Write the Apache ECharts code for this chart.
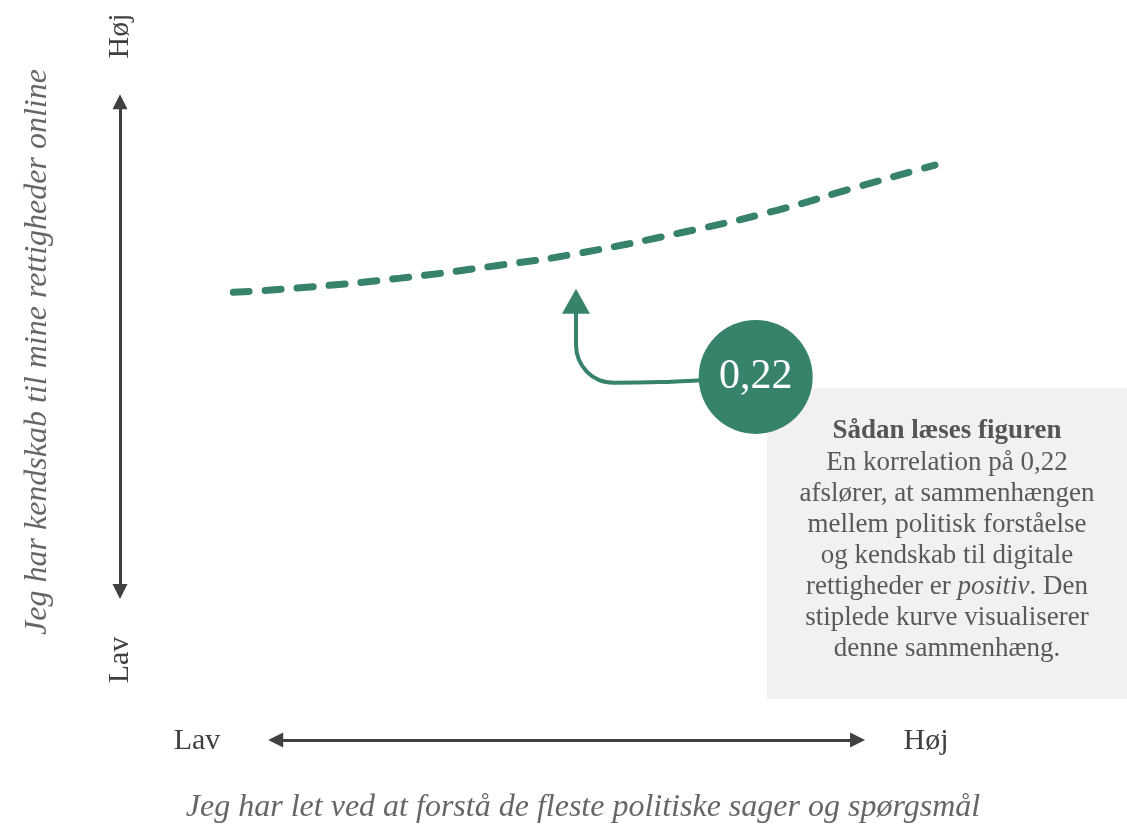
<!DOCTYPE html>
<html>
<head>
<meta charset="utf-8">
<script src="https://cdn.jsdelivr.net/npm/echarts@6/dist/echarts.min.js"></script>
<style>
  html, body { margin: 0; padding: 0; background: #fff; }
  #chart { width: 1127px; height: 829px; }
</style>
</head>
<body>
<div id="chart"></div>
<script>
// curve, in a 0..100 scale on both axes
var curveX = [13.9, 22.1, 34.4, 46.6, 55.2, 69.1, 80.6, 89.6, 100];
var curveY = [69.3, 70.0, 71.5, 73.5, 75.1, 78.6, 82.0, 85.3, 89.0];

// annotation: bent arrow from the bubble up to the curve
var pointerX = [71.2, 66.3, 60.6, 58.8, 57.3, 56.3, 55.95, 55.95];
var pointerY = [55.7, 55.4, 55.3, 55.7, 57.0, 58.9, 61.1, 66.3];
var pointerTip = [55.95, 67.9];

var bubble = [78.0, 56.2];
var bubbleLabel = '0,22';

// axis arrows
var vArrow = [[0, 23.0], [0, 98.8]];
var hArrow = [[19.1, 0], [90.5, 0]];

var green = '#37826b';
var dark = '#404040';
var serif = '"Liberation Serif", "DejaVu Serif", serif';

var chart = echarts.init(document.getElementById('chart'));

var option = {
  animation: false,
  grid: { left: 120, top: 94, width: 815, height: 646 },
  xAxis: { type: 'value', min: 0, max: 100, show: false },
  yAxis: { type: 'value', min: 0, max: 100, show: false },
  graphic: [
    { type: 'rect', z: -10, shape: { x: 767, y: 388, width: 360, height: 311 }, style: { fill: '#f1f1f1' } },
    {
      type: 'text', z: -5, x: 947, y: 416,
      style: {
        text: '{b|Sådan læses figuren}\nEn korrelation på 0,22\nafslører, at sammenhængen\nmellem politisk forståelse\nog kendskab til digitale\nrettigheder er {i|positiv}. Den\nstiplede kurve visualiserer\ndenne sammenhæng.',
        align: 'center', verticalAlign: 'top',
        font: '27px ' + serif, fill: '#595959', lineHeight: 31,
        rich: {
          b: { fontWeight: 'bold', fontSize: 27, fontFamily: serif, fill: '#555', lineHeight: 31 },
          i: { fontStyle: 'italic', fontSize: 27, fontFamily: serif, fill: '#595959', lineHeight: 31 }
        }
      }
    },
    { type: 'text', x: 120, y: 36, rotation: Math.PI / 2, style: { text: 'Høj', font: '30px ' + serif, fill: dark, align: 'center', verticalAlign: 'middle' } },
    { type: 'text', x: 120, y: 660, rotation: Math.PI / 2, style: { text: 'Lav', font: '30px ' + serif, fill: dark, align: 'center', verticalAlign: 'middle' } },
    { type: 'text', x: 197, y: 741, style: { text: 'Lav', font: '30px ' + serif, fill: dark, align: 'center', verticalAlign: 'middle' } },
    { type: 'text', x: 926, y: 741, style: { text: 'Høj', font: '30px ' + serif, fill: dark, align: 'center', verticalAlign: 'middle' } },
    { type: 'text', x: 38, y: 352, rotation: Math.PI / 2, style: { text: 'Jeg har kendskab til mine rettigheder online', font: 'italic 32px ' + serif, fill: '#666', align: 'center', verticalAlign: 'middle' } },
    { type: 'text', x: 583, y: 808, style: { text: 'Jeg har let ved at forstå de fleste politiske sager og spørgsmål', font: 'italic 32px ' + serif, fill: '#666', align: 'center', verticalAlign: 'middle' } }
  ],
  series: [
    {
      type: 'line',
      clip: false,
      smooth: true,
      symbol: 'none',
      data: curveX.map(function (x, i) { return [x, curveY[i]]; }),
      lineStyle: { color: green, width: 7, type: [16, 16], cap: 'round' },
      markLine: {
        silent: true,
        symbol: ['triangle', 'triangle'],
        symbolSize: [15, 15],
        label: { show: false },
        lineStyle: { color: dark, width: 3, type: 'solid' },
        data: [
          [{ coord: vArrow[0] }, { coord: vArrow[1] }],
          [{ coord: hArrow[0] }, { coord: hArrow[1] }]
        ]
      }
    },
    {
      type: 'line',
      clip: false,
      smooth: 0.3,
      symbol: 'none',
      data: pointerX.map(function (x, i) { return [x, pointerY[i]]; }),
      lineStyle: { color: green, width: 4 }
    },
    {
      type: 'scatter',
      clip: false,
      symbol: 'triangle',
      symbolSize: [28, 25],
      itemStyle: { color: green, opacity: 1 },
      data: [pointerTip]
    },
    {
      type: 'scatter',
      clip: false,
      z: 5,
      symbolSize: 114,
      itemStyle: { color: green, opacity: 1 },
      label: { show: true, position: 'inside', formatter: bubbleLabel, color: '#fff', fontSize: 42, fontFamily: serif },
      data: [bubble]
    }
  ]
};

chart.setOption(option);
</script>
</body>
</html>
